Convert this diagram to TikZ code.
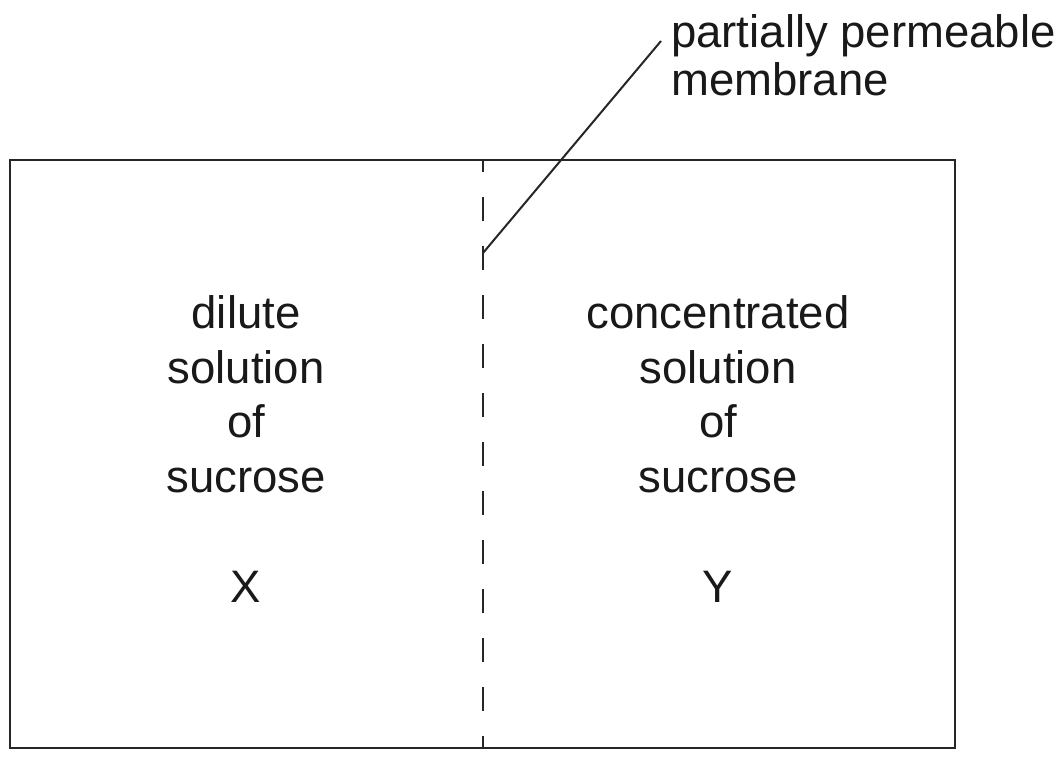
\documentclass[tikz,border=0pt]{standalone}
\usepackage{fontspec}
\setmainfont{Liberation Sans}
\begin{document}
\begin{tikzpicture}[x=1pt,y=-1pt,
  lbl/.style={anchor=base,inner sep=0pt,font=\fontsize{45.5}{54}\selectfont,text=black!90},
  lblw/.style={anchor=base west,inner sep=0pt,font=\fontsize{45.5}{54}\selectfont,text=black!90},
  edge/.style={line width=2pt,draw=black!85}]
\useasboundingbox (0,0) rectangle (1062,757);
\draw[edge] (10,160) rectangle (955,748);
\coordinate (mtop) at (483,160);
\coordinate (mbot) at (483,748);
\draw[line width=2.2pt,draw=black!85,dash pattern=on 24pt off 25pt,dash phase=12pt] (mtop) -- (mbot);
\coordinate (lp) at (483,253);
\coordinate (lq) at (661,41);
\draw[edge] (lp) -- (lq);
\node[lblw] (t1) at (671,48) {partially permeable};
\node[lblw] (t2) at (671,96) {membrane};
\node[lbl] (a1) at (246,328) {dilute};
\node[lbl] (a2) at (246,383) {solution};
\node[lbl] (a3) at (246,437) {of};
\node[lbl] (a4) at (246,492) {sucrose};
\node[lbl] (ax) at (246,602) {X};
\node[lbl] (b1) at (718,328) {concentrated};
\node[lbl] (b2) at (718,383) {solution};
\node[lbl] (b3) at (718,437) {of};
\node[lbl] (b4) at (718,492) {sucrose};
\node[lbl] (by) at (718,602) {Y};
\end{tikzpicture}
\end{document}
